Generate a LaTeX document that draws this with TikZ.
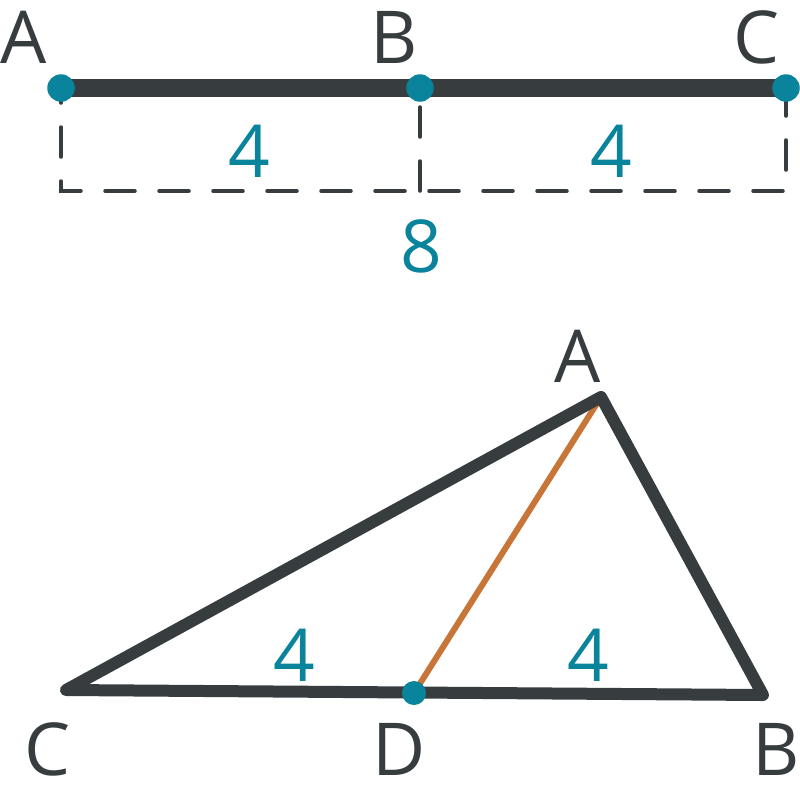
\documentclass[tikz,border=0pt]{standalone}
\usepackage{fontspec}
\setmainfont{Open Sans}
\definecolor{dk}{HTML}{373C3F}
\definecolor{tl}{HTML}{0A849C}
\definecolor{org}{HTML}{C87538}
\begin{document}
\begin{tikzpicture}[x=1pt,y=-1pt,
  lbl/.style={anchor=base,inner sep=0pt,text=dk,font=\fontsize{73}{80}\selectfont},
  num/.style={anchor=base,inner sep=0pt,text=tl,font=\fontsize{73}{80}\selectfont},
  dot/.style={circle,fill=tl,inner sep=0pt,minimum size=27.5pt},
  sdot/.style={circle,fill=tl,inner sep=0pt,minimum size=24pt},
  dim/.style={draw=dk,line width=3.5pt,line cap=round,dash pattern=on 30pt off 24pt},
  seg/.style={draw=dk,line width=18pt},
  tri/.style={draw=dk,line width=12pt,line join=round,line cap=round},
  med/.style={draw=org,line width=6pt}]
\useasboundingbox (0,0) rectangle (800,796);
% top segment
\coordinate (pA) at (61,88);
\coordinate (pB) at (420,88);
\coordinate (pC) at (786,88);
\coordinate (mB) at (420,192);
\draw[dim,dash phase=15pt] (pA) -- ++(0,103) -| (pC);
\draw[dim,dash phase=35pt] (pB) -- (mB);
\draw[seg] (pA) -- (pC);
\node[dot] (dA) at (pA) {};
\node[dot] (dB) at (pB) {};
\node[dot] (dC) at (pC) {};
\node[lbl] (lA) at (24,63) {A};
\node[lbl] (lB) at (394,63) {B};
\node[lbl] (lC) at (757,63) {C};
\node[num] (n1) at (249,177) {4};
\node[num] (n2) at (611,177) {4};
\node[num] (n3) at (421,272) {8};
% triangle
\coordinate (tA) at (601,397);
\coordinate (tC) at (66,690);
\coordinate (tB) at (763,695);
\coordinate (tD) at (414,693);
\draw[med] (tA) -- (tD);
\draw[tri] (tA) -- (tB) -- (tC) -- cycle;
\node[sdot] (dD) at (tD) {};
\node[lbl] (qA) at (578,382) {A};
\node[lbl] (qC) at (48,775) {C};
\node[lbl] (qD) at (399,775) {D};
\node[lbl] (qB) at (776,775) {B};
\node[num] (m1) at (294,681) {4};
\node[num] (m2) at (588,681) {4};
\end{tikzpicture}
\end{document}
